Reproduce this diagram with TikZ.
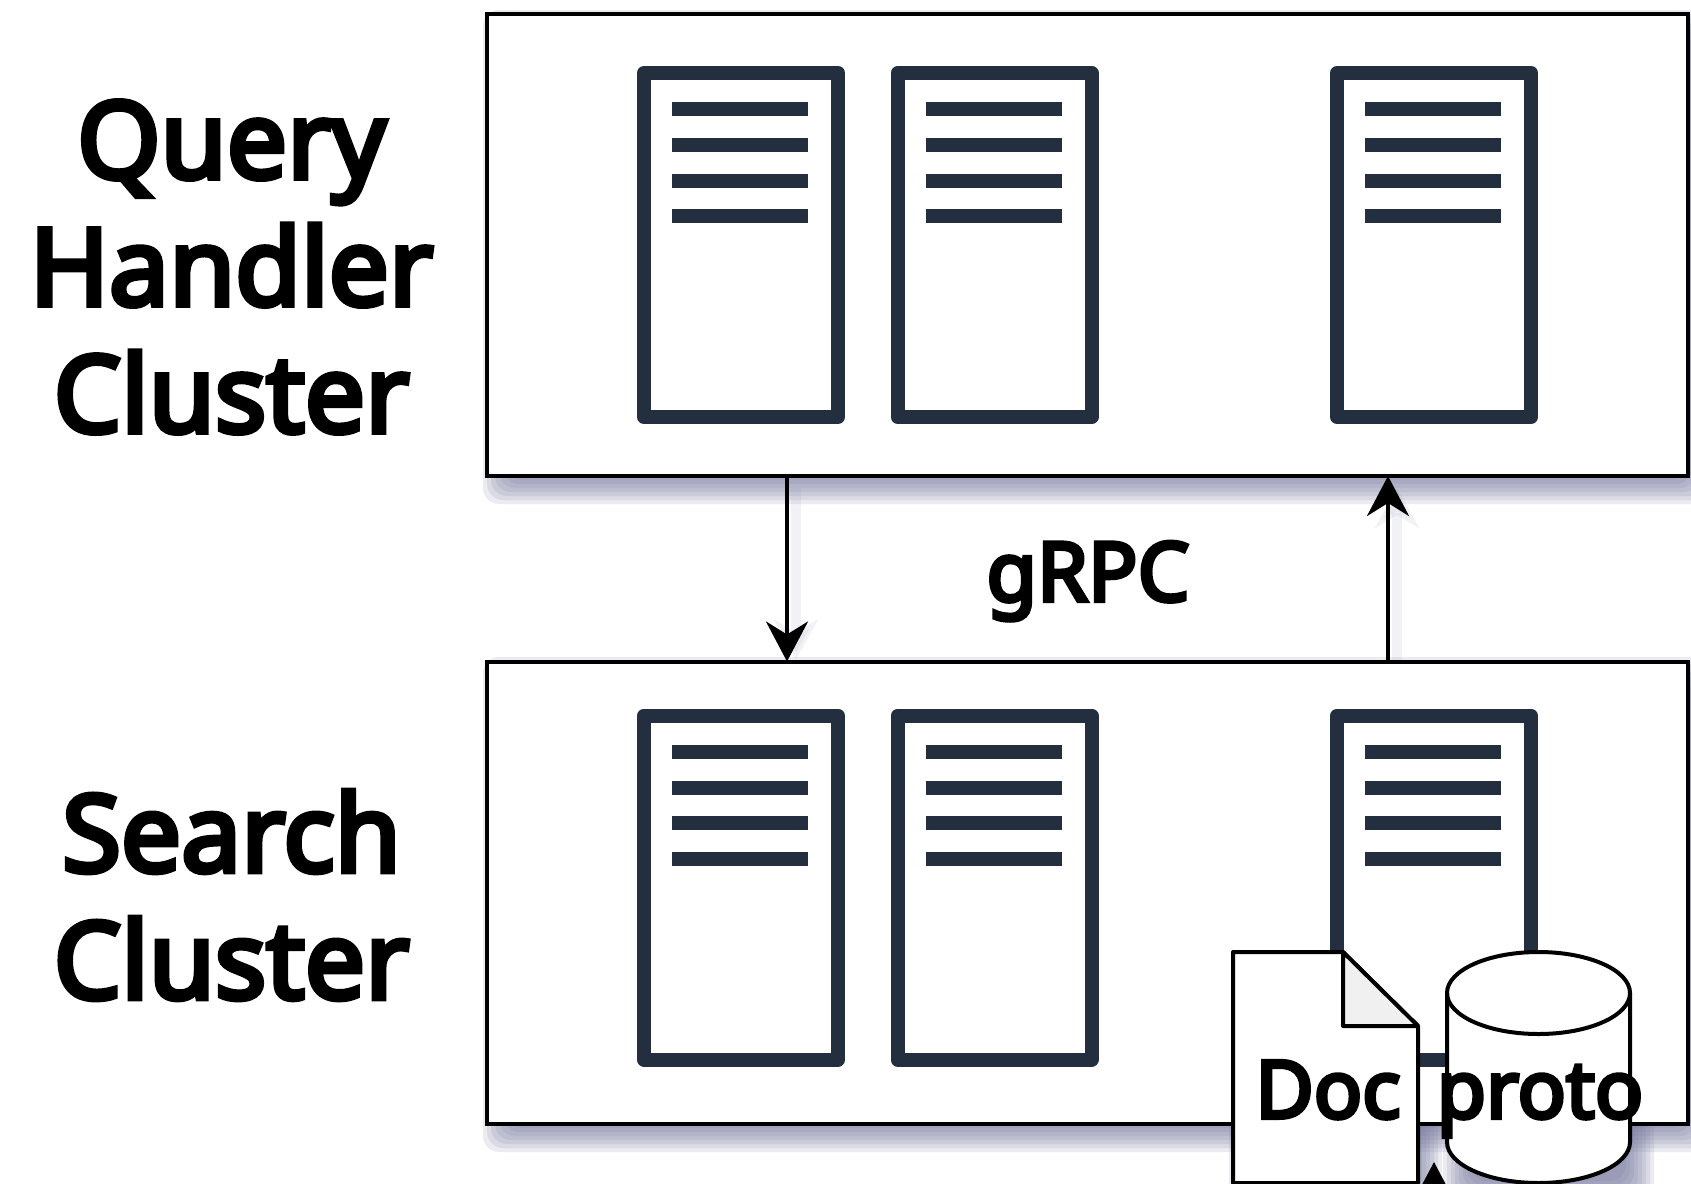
\documentclass[tikz,border=0pt]{standalone}
\usepackage{fontspec}
\setmainfont{Noto Sans}[BoldFont={Noto Sans},BoldFeatures={FakeBold=5}]
\usetikzlibrary{calc,arrows.meta}
\definecolor{serverblue}{HTML}{232F3E}
\definecolor{shadowblue}{HTML}{6F7299}
\definecolor{foldgray}{HTML}{F0F0F0}
\tikzset{
    cluster/.style={
        draw,
        line width=2pt,
        fill=white,
        outer sep=0pt,
        minimum width=600.5pt,
        minimum height=231pt
    },
    server/.style={
        draw=serverblue,
        line width=7pt,
        line join=round,
        outer sep=0pt,
        minimum width=97pt,
        minimum height=172pt
    },
    serverline/.style={
        serverblue,
        line width=7pt
    },
    bigtitle/.style={
        align=center,
        font=\bfseries\fontsize{53.5}{63.5}\selectfont
    },
    midtitle/.style={
        anchor=base,
        font=\bfseries\fontsize{41}{50}\selectfont
    },
    flow/.style={
        line width=2pt,
        -{Stealth[length=20pt,width=21pt,inset=6.5pt]}
    },
    flowshadow/.style={
        shadowblue,
        opacity=0.09,
        line width=5pt,
        -{Stealth[length=20pt,width=22pt,inset=6.5pt]}
    },
    docpage/.style={
        draw,
        line width=2pt,
        line join=round,
        fill=white
    },
    dbdrum/.style={
        draw,
        line width=2pt,
        fill=white
    }
}
% blurred shadow under a shape
\newcommand{\softshadow}[4]{
    \foreach \grow in {-14,-10,-6,-2,2,6,10,14}
        \fill[shadowblue,opacity=0.14,rounded corners=8pt]
            (#1-\grow,#2-\grow) rectangle (#3+\grow,#4+\grow);
}

\begin{document}
\begin{tikzpicture}[x=0.5pt,y=-0.5pt]
    \useasboundingbox (0,0) rectangle (1691,1183);
    \clip (0,0) rectangle (1691,1183);

    %% Query handler cluster
    \softshadow{497}{24}{1698}{490}
    \node (QHC) [cluster] at (1087.5,245) {};
    \node (QHCtitle) [bigtitle] at (231.5,267) {Query\\Handler\\Cluster};

    %% Search cluster
    \softshadow{497}{671}{1698}{1138}
    \softshadow{1243}{962}{1428}{1200}
    \softshadow{1457}{975}{1640}{1195}
    \node (SC) [cluster] at (1087.5,892.5) {};
    \node (SCtitle) [bigtitle] at (231.5,895) {Search\\Cluster};

    %% Servers
    \foreach \name/\cx/\cy in {QS1/741/245,QS2/994.5/245,QS3/1434/245,
                               SS1/741/887.5,SS2/994.5/887.5,SS3/1434/887.5} {
        \node (\name) [server] at (\cx,\cy) {};
        \foreach \dy in {36,72,107.5,143}
            \draw[serverline] ($(\name.north)+(-69,\dy)$) -- ++(136,0);
    }

    %% gRPC
    \draw[flowshadow] ($(QHC.south west)+(309,12)$) -- ($(SC.north west)+(309,-2)$);
    \draw[flowshadow] ($(SC.north west)+(910,-2)$) -- ($(QHC.south west)+(910,12)$);
    \draw[flow] ($(QHC.south west)+(300,0)$) -- ($(SC.north west)+(300,0)$);
    \draw[flow] ($(SC.north west)+(901,0)$) -- ($(QHC.south west)+(901,0)$);
    \node (RPC) [midtitle] at (1088,601) {gRPC};

    %% Document and store
    \coordinate (feed) at (1434,1240);
    \draw[flow] (feed) -- (1434,1162);

    \draw[docpage] (1233,952) -- (1343,952) -- (1418,1026) -- (1418,1183) -- (1233,1183) -- cycle;
    \draw[docpage,fill=foldgray] (1343,952) -- (1418,1026) -- (1343,1026) -- cycle;
    \node (DOC) [midtitle,font=\bfseries\fontsize{40}{50}\selectfont] at (1328,1118) {Doc};

    \draw[dbdrum] (1447,993) arc[start angle=180,end angle=360,x radius=91.5,y radius=41]
        -- (1630,1142) arc[start angle=0,end angle=180,x radius=91.5,y radius=41] -- cycle;
    \draw[dbdrum,fill=none] (1447,993) arc[start angle=180,end angle=0,x radius=91.5,y radius=41];
    \node (PROTO) [midtitle,font=\bfseries\fontsize{40}{50}\selectfont] at (1540,1118) {proto};

\end{tikzpicture}
\end{document}
